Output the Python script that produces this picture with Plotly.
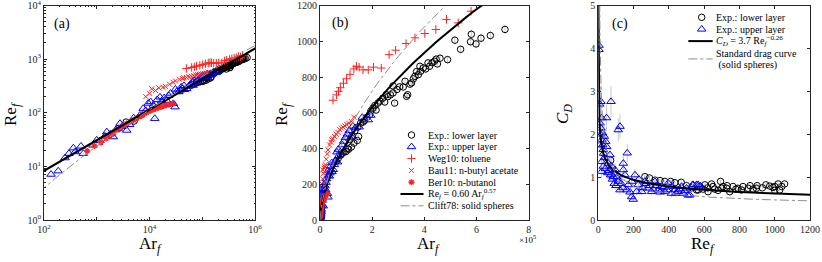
import numpy as np
import plotly.graph_objects as go

# ---------------- data: panels (a) and (b)  (Ar_f, Re_f) ----------------
lower_layer = [(3.6e3, 67), (5.1e3, 70), (6.2e4, 330), (7.0e4, 345), (7.8e4, 362), (8.5e4, 372),
               (9.2e4, 380), (1.0e5, 383), (1.05e5, 400), (1.1e5, 396), (1.15e5, 449), (1.2e5, 408),
               (1.22e5, 470), (1.3e5, 430), (1.34e5, 500), (1.43e5, 445), (1.45e5, 520), (1.48e5, 467),
               (1.56e5, 542), (1.65e5, 548), (1.71e5, 557), (1.8e5, 575), (1.9e5, 589), (1.95e5, 610),
               (2.03e5, 626), (2.1e5, 640), (2.15e5, 615), (2.22e5, 654), (2.3e5, 665), (2.41e5, 682),
               (2.48e5, 660), (2.54e5, 701), (2.6e5, 690), (2.7e5, 700), (2.8e5, 711), (2.8e5, 750),
               (2.86e5, 654), (2.95e5, 730), (3.05e5, 745), (3.19e5, 744), (3.26e5, 776), (3.32e5, 692),
               (3.36e5, 701), (3.45e5, 760), (3.51e5, 767), (3.58e5, 790), (3.64e5, 804), (3.7e5, 830),
               (3.77e5, 813), (3.83e5, 860), (3.86e5, 832), (3.96e5, 851), (4.05e5, 845), (4.14e5, 879),
               (4.2e5, 860), (4.3e5, 880), (4.39e5, 888), (4.45e5, 900), (4.5e5, 873), (4.6e5, 905),
               (4.89e5, 897), (5.17e5, 1006), (5.39e5, 955), (5.77e5, 997), (5.8e5, 1039), (5.98e5, 985),
               (6.17e5, 1017), (6.53e5, 1032), (7.09e5, 1066)]

upper_layer = [(136, 7.1), (186, 8.2), (250, 14.4), (297, 17.4), (360, 22), (390, 18.7), (503, 23.8),
               (556, 17.4), (850, 24.8), (1000, 31), (1150, 30), (1430, 36.6), (1550, 44), (1800, 40),
               (2060, 35.5), (2300, 48), (2560, 50.8), (2760, 63), (3000, 55), (3700, 47), (4200, 60),
               (5000, 80), (6600, 90), (7600, 120), (8500, 110), (9500, 150), (10500, 160), (11800, 138),
               (12600, 78), (14000, 175), (15800, 196), (17000, 165), (19000, 190), (21200, 170),
               (23000, 210), (25000, 230), (28400, 148), (30500, 128), (31000, 275), (33000, 250),
               (36000, 245), (38000, 263), (40000, 300), (42000, 280), (45000, 320), (46000, 270),
               (50700, 282), (55000, 310), (60000, 330), (65000, 380), (67000, 324), (70000, 395),
               (72000, 360), (78000, 380), (85000, 420), (90600, 440), (97000, 460), (105000, 480),
               (112000, 500), (121000, 464), (126000, 525), (135000, 515), (150000, 520), (162000, 574),
               (185000, 560), (195000, 585)]

weg10_toluene = [(50000, 670), (63000, 700), (71000, 720), (78000, 740), (90000, 765), (102000, 790),
                 (115000, 815), (130000, 845), (140000, 860), (150000, 855), (165000, 840), (185000, 840),
                 (205000, 855), (235000, 850), (265000, 925), (290000, 950), (330000, 987), (364000, 1019),
                 (402000, 1043), (444000, 1066), (485000, 1122), (530000, 1103), (579000, 1168)]

bau11_butylacetate = [(8500, 200), (10000, 230), (11000, 280), (13000, 260), (15000, 290), (18000, 299),
                      (20000, 310), (24000, 340), (28000, 370), (31000, 392), (37000, 420), (42000, 435),
                      (45000, 449), (50000, 455), (56000, 467), (62000, 480), (69000, 490), (76000, 505),
                      (82000, 514), (88000, 520), (95000, 527), (102000, 535), (110000, 542),
                      (120000, 551), (130000, 575)]

ber10_butanol = [(660, 19.4), (900, 24), (1200, 28), (1500, 33), (1800, 38), (2100, 43), (2400, 48),
                 (2800, 53), (3200, 58), (3700, 63), (4300, 68), (5000, 73), (5800, 79), (6700, 86),
                 (7600, 93), (8800, 100), (10200, 108), (11500, 114), (13000, 119), (14700, 124),
                 (16500, 128), (18500, 133), (21000, 138), (24000, 143), (28300, 148)]

# ---------------- data: panel (c)  (Re_f, C_D) ----------------
c_lower = [(67, 1.07), (70, 1.39), (91, 1.09), (104, 0.97), (264, 1.01), (290, 0.98), (321, 0.93),
           (350, 0.92), (377, 0.9), (410, 0.9), (434, 0.87), (470, 0.88), (500, 0.8), (530, 0.75),
           (557, 0.7), (566, 0.7), (575, 0.78), (594, 0.72), (604, 0.82), (620, 0.75), (622, 0.66),
           (642, 0.84), (650, 0.78), (660, 0.72), (679, 0.69), (693, 0.9), (700, 0.74), (707, 0.78),
           (727, 0.74), (730, 0.8), (745, 0.66), (764, 0.78), (780, 0.72), (792, 0.74), (811, 0.7),
           (820, 0.78), (849, 0.74), (860, 0.8), (877, 0.72), (896, 0.74), (900, 0.8), (930, 0.75),
           (950, 0.82), (972, 0.79), (990, 0.76), (1000, 0.78), (1000, 0.69), (1019, 0.84),
           (1028, 0.7), (1040, 0.78), (1056, 0.84)]

c_upper = [(4, 4.07), (4, 3.97), (15, 2.76), (72, 2.76), (19, 2.38), (47, 2.38), (123, 2.18),
           (113, 2.1), (10, 2.26), (15, 2.14), (23, 2.03), (34, 1.95), (19, 1.87), (42, 1.83),
           (10, 1.75), (47, 1.71), (28, 1.64), (66, 1.52), (164, 1.56), (19, 1.36), (57, 1.32),
           (142, 1.32), (28, 1.25), (76, 1.25), (95, 1.17), (19, 1.13), (53, 1.1), (142, 1.17),
           (85, 1.01), (151, 1.05), (113, 0.9), (208, 1.05), (189, 0.9), (123, 0.7), (161, 0.7),
           (189, 0.54), (198, 0.48), (226, 0.82), (264, 0.9), (283, 0.74), (321, 0.9), (359, 0.78),
           (396, 0.86), (434, 0.7), (472, 0.78), (509, 0.58), (538, 0.82), (566, 0.82), (217, 0.66),
           (246, 0.66), (302, 0.66), (340, 0.7), (377, 0.66), (415, 0.62), (453, 0.66), (481, 0.62),
           (534, 0.82), (557, 0.82), (580, 0.79), (519, 0.58), (35, 1.45), (40, 1.2), (60, 1.15),
           (70, 1.05), (80, 0.95), (90, 0.85), (100, 0.8), (130, 0.85), (105, 1.0), (140, 0.75),
           (170, 0.82), (180, 0.65), (230, 0.95), (250, 0.75), (270, 0.85), (290, 0.8), (310, 0.72),
           (330, 0.8), (350, 0.65), (370, 0.75), (390, 0.7), (420, 0.78), (440, 0.62), (460, 0.72),
           (490, 0.68), (500, 0.74), (8, 2.7), (12, 2.0), (25, 1.75), (30, 1.55)]

# model curves: Re_f = 0.60 Ar_f^0.57 ; C_D = 3.7 Re_f^-0.26 ; standard drag curve (solid spheres)
fit_re_coef, fit_re_exp = 0.60, 0.57
fit_cd_coef, fit_cd_exp = 3.7, -0.26

# tick labels
a_x_ticktext = ["10<sup>2</sup>", "", "10<sup>4</sup>", "", "10<sup>6</sup>"]
a_y_ticktext = ["10<sup>0</sup>", "10<sup>1</sup>", "10<sup>2</sup>", "10<sup>3</sup>", "10<sup>4</sup>"]
b_x_ticktext = ["0", "2", "4", "6", "8"]

legend_b_labels = ["Exp.: lower layer", "Exp.: upper layer", "Weg10: toluene", "Bau11: n-butyl acetate",
                   "Ber10: n-butanol", "Re<sub><i>f</i></sub> = 0.60 Ar<sub><i>f</i></sub><sup>0.57</sup>",
                   "Clift78: solid spheres"]
legend_c_labels = ["Exp.: lower layer", "Exp.: upper layer",
                   "<i>C<sub>D</sub></i> = 3.7 Re<sub><i>f</i></sub><sup>−0.26</sup>",
                   "Standard drag curve", " (solid spheres)"]


def unzip(pairs):
    a, b = zip(*pairs)
    return list(a), list(b)


lower_ar, lower_re = unzip(lower_layer)
upper_ar, upper_re = unzip(upper_layer)
weg_ar, weg_re = unzip(weg10_toluene)
bau_ar, bau_re = unzip(bau11_butylacetate)
ber_ar, ber_re = unzip(ber10_butanol)
cl_re, cl_cd = unzip(c_lower)
cu_re, cu_cd = unzip(c_upper)


def std_drag(re):
    re = np.asarray(re, dtype=float)
    return 24.0 / re * (1 + 0.15 * re ** 0.687) + 0.42 / (1 + 42500 * re ** -1.16)


# ---------------- styling ----------------
W, H = 822, 262
FONT = "Liberation Serif"
AXC = "#262626"
BLUE = "#0000FF"
RED = "#FF2020"
GREY = "#8C8C8C"
ERRC = "#C8C8C8"

sty_lower = dict(mode="markers", marker=dict(symbol="circle-open", size=6.5, color="black", line=dict(width=1)))
sty_upper = dict(mode="markers", marker=dict(symbol="triangle-up-open", size=7.5, color=BLUE, line=dict(width=1)))
sty_weg = dict(mode="markers", marker=dict(symbol="cross-thin-open", size=6, color=RED, line=dict(width=1)))
sty_bau = dict(mode="markers", marker=dict(symbol="x-thin-open", size=5, color=RED, line=dict(width=1)))
sty_ber = dict(mode="markers", marker=dict(symbol="asterisk-open", size=5, color=RED, line=dict(width=1.4)))
sty_fit = dict(mode="lines", line=dict(color="black", width=2))
sty_std = dict(mode="lines", line=dict(color=GREY, width=1, dash="dashdot"))


def px(x):
    return x / W


def py(y):
    return 1 - y / H


fig = go.Figure()

fit_ar = np.logspace(2, 6.1, 200)
std_re = np.logspace(0.3, 3.6, 300)
std_ar = 0.75 * std_drag(std_re) * std_re ** 2

for xa, ya in (("x", "y"), ("x2", "y2")):
    err = dict(type="percent", value=2.5, color=ERRC, thickness=1, width=0)
    fig.add_trace(go.Scatter(x=lower_ar, y=lower_re, error_y=err, xaxis=xa, yaxis=ya, **sty_lower))
    fig.add_trace(go.Scatter(x=upper_ar, y=upper_re, error_y=err, xaxis=xa, yaxis=ya, **sty_upper))
    fig.add_trace(go.Scatter(x=weg_ar, y=weg_re, xaxis=xa, yaxis=ya, **sty_weg))
    fig.add_trace(go.Scatter(x=bau_ar, y=bau_re, xaxis=xa, yaxis=ya, **sty_bau))
    fig.add_trace(go.Scatter(x=ber_ar, y=ber_re, xaxis=xa, yaxis=ya, **sty_ber))
    fig.add_trace(go.Scatter(x=fit_ar, y=fit_re_coef * fit_ar ** fit_re_exp, xaxis=xa, yaxis=ya, **sty_fit))
    fig.add_trace(go.Scatter(x=std_ar, y=std_re, xaxis=xa, yaxis=ya, **sty_std))

# panel (c)
fig.add_trace(go.Scatter(x=cl_re, y=cl_cd, xaxis="x3", yaxis="y3",
                         error_y=dict(type="percent", value=5, color=ERRC, thickness=1, width=0), **sty_lower))
fig.add_trace(go.Scatter(x=cu_re, y=cu_cd, xaxis="x3", yaxis="y3",
                         error_y=dict(type="percent", value=13, color=ERRC, thickness=1, width=0), **sty_upper))
fit_re_c = np.concatenate([np.logspace(-0.6, 1, 60), np.linspace(10.5, 1250, 200)])
fig.add_trace(go.Scatter(x=fit_re_c, y=fit_cd_coef * fit_re_c ** fit_cd_exp, xaxis="x3", yaxis="y3", **sty_fit))
std_re_c = np.concatenate([np.logspace(0.5, 1, 30), np.linspace(10.5, 1250, 200)])
fig.add_trace(go.Scatter(x=std_re_c, y=std_drag(std_re_c), xaxis="x3", yaxis="y3", **sty_std))

# ---------------- legends (drawn on a pixel overlay axis) ----------------
leg_b = dict(x_key=411.5, x_line=(400.5, 423.5), x_text=426.0, y0=135.0, dy=11.8)
leg_c = dict(x_key=701.7, x_line=(688.3, 712.7), x_text=713.8, y0=17.3, dy=11.9)
ov = dict(xaxis="x4", yaxis="y4", showlegend=False, hoverinfo="skip")

b_styles = [sty_lower, sty_upper, sty_weg, sty_bau, sty_ber, sty_fit, sty_std]
for i, st in enumerate(b_styles):
    yk = leg_b["y0"] + i * leg_b["dy"]
    if st["mode"] == "markers":
        fig.add_trace(go.Scatter(x=[leg_b["x_key"]], y=[yk], **st, **ov))
    else:
        fig.add_trace(go.Scatter(x=list(leg_b["x_line"]), y=[yk, yk], **st, **ov))
c_styles = [sty_lower, sty_upper, sty_fit, sty_std]
c_key_rows = [0, 1, 2, 3.5]
for st, r in zip(c_styles, c_key_rows):
    yk = leg_c["y0"] + r * leg_c["dy"]
    if st["mode"] == "markers":
        fig.add_trace(go.Scatter(x=[leg_c["x_key"]], y=[yk], **st, **ov))
    else:
        fig.add_trace(go.Scatter(x=list(leg_c["x_line"]), y=[yk, yk], **st, **ov))

annotations = []
for i, t in enumerate(legend_b_labels):
    annotations.append(dict(text=t, x=px(leg_b["x_text"]), y=py(leg_b["y0"] + i * leg_b["dy"]),
                            xanchor="left", yanchor="middle", font=dict(size=10)))
for i, t in enumerate(legend_c_labels):
    annotations.append(dict(text=t, x=px(leg_c["x_text"]), y=py(leg_c["y0"] + i * leg_c["dy"]),
                            xanchor="left", yanchor="middle", font=dict(size=10)))

# panel labels
for t, x, y in (("(a)", 52, 24), ("(b)", 330, 23), ("(c)", 610, 24)):
    annotations.append(dict(text=t, x=px(x), y=py(y), xanchor="left", yanchor="middle", font=dict(size=14)))

# axis titles
RE_T = "Re<sub><i>f</i></sub>"
AR_T = "Ar<sub><i>f</i></sub>"
for t, x, y, rot in ((AR_T, 150, 245, 0), (RE_T, 12, 114, -90),
                     (AR_T, 428, 245, 0), (RE_T, 283, 114, -90),
                     (RE_T, 703, 245, 0), ("<i>C<sub>D</sub></i>", 564, 114, -90)):
    annotations.append(dict(text=t, x=px(x), y=py(y), xanchor="center", yanchor="middle",
                            textangle=rot, font=dict(size=17)))
annotations.append(dict(text="×10<sup>5</sup>", x=px(527), y=py(239), xanchor="center", yanchor="middle",
                        font=dict(size=9)))

for a in annotations:
    a.update(xref="paper", yref="paper", showarrow=False)
    a["font"].update(family=FONT, color="black")

ydom = [py(220), py(5.5)]
base = dict(showline=True, linecolor=AXC, linewidth=1, mirror="ticks", ticks="inside", ticklen=3,
            tickcolor=AXC, tickwidth=1, tickfont=dict(family=FONT, size=10, color=AXC),
            showgrid=False, zeroline=False, automargin=False, ticklabeloverflow="allow")

minor_x = [m * 10 ** d for d in range(2, 6) for m in range(2, 10)]
minor_y = [m * 10 ** d for d in range(0, 4) for m in range(2, 10)]

fig.update_layout(
    width=W, height=H, margin=dict(l=0, r=0, t=0, b=0, autoexpand=False),
    paper_bgcolor="white", plot_bgcolor="rgba(0,0,0,0)", showlegend=False,
    xaxis=dict(domain=[px(44), px(255)], type="log", range=[2, 6], anchor="y",
               tickvals=[1e2, 1e3, 1e4, 1e5, 1e6], ticktext=a_x_ticktext,
               minor=dict(tickvals=minor_x, ticks="inside", ticklen=1.5, tickcolor=AXC), **base),
    yaxis=dict(domain=ydom, type="log", range=[0, 4], anchor="x",
               tickvals=[1, 10, 100, 1000, 10000], ticktext=a_y_ticktext,
               minor=dict(tickvals=minor_y, ticks="inside", ticklen=1.5, tickcolor=AXC), **base),
    xaxis2=dict(domain=[px(320), px(528.7)], range=[0, 8e5], anchor="y2",
                tickvals=[0, 2e5, 4e5, 6e5, 8e5], ticktext=b_x_ticktext, **base),
    yaxis2=dict(domain=ydom, range=[0, 1200], anchor="x2", dtick=200, **base),
    xaxis3=dict(domain=[px(598.3), px(810)], range=[0, 1200], anchor="y3", dtick=200, **base),
    yaxis3=dict(domain=ydom, range=[0, 5], anchor="x3", dtick=1, **base),
    xaxis4=dict(domain=[0, 1], range=[0, W], anchor="y4", visible=False, fixedrange=True, automargin=False),
    yaxis4=dict(domain=[0, 1], range=[H, 0], anchor="x4", visible=False, fixedrange=True, automargin=False),
    annotations=annotations,
)

fig.write_html("out.html", config={"displayModeBar": False},
               post_script="document.body.style.margin='0px';document.body.style.overflow='hidden';")
